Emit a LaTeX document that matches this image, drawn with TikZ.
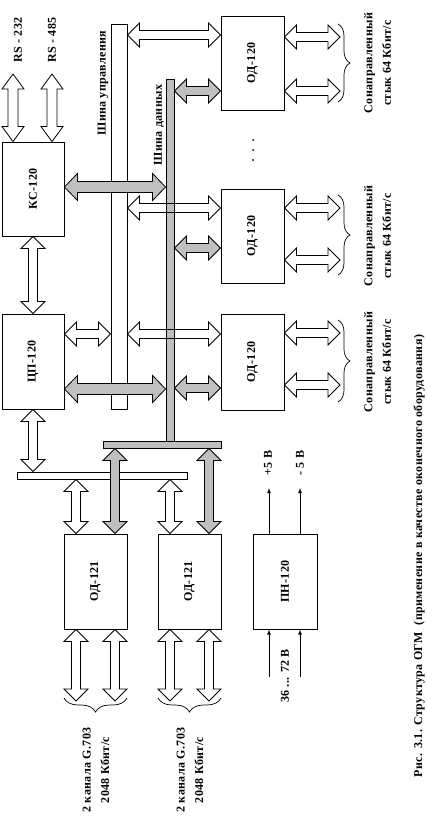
\documentclass[tikz,border=0pt]{standalone}
\usepackage{fontspec}
\setmainfont[LetterSpace=3]{Liberation Serif}
\usepackage{graphicx}
\usetikzlibrary{calc,decorations.pathreplacing}
\tikzset{
  box/.style={draw,line width=0.9pt,fill=white,font=\fontsize{12}{14}\selectfont\bfseries},
  bus/.style={draw,line width=0.9pt,inner sep=0pt},
  lbl/.style={rotate=90,align=center,font=\fontsize{12}{18.5}\selectfont\bfseries},
  brc/.style={decorate,decoration={brace,amplitude=#1},line width=0.7pt}
}
\def\fahl{12pt}\def\fahw{12pt}\def\fasw{4.5pt}
\newcommand\fatarrow[3][]{%
  \coordinate (fas) at (#2); \coordinate (fae) at (#3);
  \draw[#1] (fas) -- ($(fas)!\fahl!(fae)!\fahw!90:(fae)$) -- ($(fas)!\fahl!(fae)!\fasw!90:(fae)$)
    -- ($(fae)!\fahl!(fas)!\fasw!-90:(fas)$) -- ($(fae)!\fahl!(fas)!\fahw!-90:(fas)$) -- (fae)
    -- ($(fae)!\fahl!(fas)!\fahw!90:(fas)$) -- ($(fae)!\fahl!(fas)!\fasw!90:(fas)$)
    -- ($(fas)!\fahl!(fae)!\fasw!-90:(fae)$) -- ($(fas)!\fahl!(fae)!\fahw!-90:(fae)$) -- cycle;}
\begin{document}
\begin{tikzpicture}[x=1pt,y=-1pt,>=latex,line width=0.8pt]
	\useasboundingbox (0,0) rectangle (426,819);
	\node[box,minimum width=62pt,minimum height=94pt] (ks) at (33,189) {\rotatebox{90}{КС-120}};
	\node[box,minimum width=62pt,minimum height=95pt] (cp) at (33,361.5) {\rotatebox{90}{ЦП-120}};
	\foreach \n/\y/\h in {od1/63/94,od2/236/94,od3/362/96}
		\node[box,minimum width=63pt,minimum height=\h pt] (\n) at (252.5,\y) {\rotatebox{90}{ОД-120}};
	\node[box,minimum width=63pt,minimum height=95pt] (oda) at (95.5,581.5) {\rotatebox{90}{ОД-121}};
	\node[box,minimum width=63pt,minimum height=95pt] (odb) at (189.5,581.5) {\rotatebox{90}{ОД-121}};
	\node[box,minimum width=64pt,minimum height=95pt] (pn) at (285,581.5) {\rotatebox{90}{ПН-120}};
	\node[bus,fill=white,minimum width=16pt,minimum height=385pt] (cbus) at (119,216.5) {};
	\node[bus,fill=black!25,minimum width=8pt,minimum height=362pt] (dbus) at (170,260) {};
	\node[bus,fill=black!25,minimum width=118pt,minimum height=7pt] (gbar) at (162,444.5) {};
	\node[bus,fill=white,minimum width=170pt,minimum height=7pt] (wbar) at (102,475.5) {};
	{\def\fahl{15pt}\def\fahw{11pt}\def\fasw{5pt}
	\fatarrow{ks.north -| 13,0}{13,74} \fatarrow{ks.north -| 52,0}{52,74}}
	\fatarrow{ks.south}{cp.north}
	\fatarrow{cp.east |- 0,334}{cbus.west |- 0,334}
	{\def\fahl{13pt}\def\fahw{13.5pt}\def\fasw{5.5pt}
	\fatarrow[fill=black!25]{ks.east |- 0,187}{dbus.west |- 0,187}
	\fatarrow[fill=black!25]{cp.east |- 0,389}{dbus.west |- 0,389}}
	\foreach \b/\y in {od1/35,od2/208,od3/334} {\fatarrow{cbus.east |- 0,\y}{\b.west |- 0,\y}}
	\foreach \b/\y in {od1/91,od2/248,od3/388} {\fatarrow[fill=black!25]{dbus.east |- 0,\y}{\b.west |- 0,\y}}
	\foreach \b/\y in {od1/37,od1/91,od2/208,od2/260,od3/333,od3/385} {\fatarrow{\b.east |- 0,\y}{340,\y}}
	\fatarrow{cp.south}{wbar.north -| 33,0}
	\foreach \b/\x in {oda/76,odb/170} {\fatarrow{wbar.south -| \x,0}{\b.north -| \x,0}}
	\foreach \b/\x in {oda/115,odb/209} {\fatarrow[fill=black!25]{gbar.south -| \x,0}{\b.north -| \x,0}}
	\foreach \b/\x in {oda/76,oda/115,odb/170,odb/209} {\fatarrow{\b.south -| \x,0}{\x,701}}
	\foreach \y/\z in {24/102,195/275,320/402} \draw[brc=12pt] (338,\y) -- (338,\z);
	\foreach \a/\b in {64/127,158/221} \draw[brc=14pt] (\b,698) -- (\a,698);
	\foreach \y in {140,150,160} \fill (253,\y) circle (1pt);
	\coordinate (p5) at (269,488); \coordinate (m5) at (300,488);
	\coordinate (vin1) at (269,677); \coordinate (vin2) at (300,677);
	\draw[->] (pn.north -| p5) -- (p5); \draw[->] (pn.north -| m5) -- (m5);
	\draw[->] (vin1) -- (pn.south -| vin1); \draw[->] (vin2) -- (pn.south -| vin2);
	\node[lbl] (rs232) at (18,40) {RS - 232};
	\node[lbl] (rs485) at (52,40) {RS - 485};
	\node[lbl] (cbuslbl) at (103,83) {Шина управления};
	\node[lbl] (dbuslbl) at (159,125) {Шина данных};
	\foreach \y in {63,236,362} \node[lbl] (sl\y) at (377.5,\y) {Сонаправленный\\стык 64 Кбит/с};
	\foreach \x in {96,190} \node[lbl] (gl\x) at (\x,770) {2 канала G.703\\2048 Кбит/с};
	\node[lbl] (plus5) at (268,463) {+5 В};
	\node[lbl] (minus5) at (300,463) {- 5 В};
	\node[lbl] (vin) at (285,676) {36 ... 72 В};
	\node[lbl] (caption) at (419,556) {Рис. 3.1. Структура ОГМ~~(применение в качестве оконечного оборудования)};
\end{tikzpicture}
\end{document}
